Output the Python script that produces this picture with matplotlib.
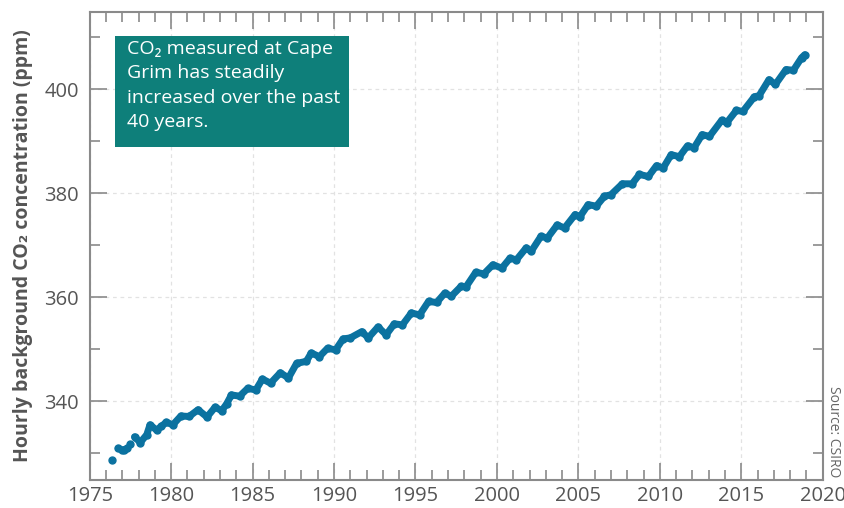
# Cape Grim CO2 record
import numpy as np
import matplotlib.pyplot as plt
from matplotlib.ticker import MultipleLocator
from matplotlib.patches import Rectangle

plt.rcParams['font.family'] = ['Open Sans', 'DejaVu Sans']

nan = np.nan

# decimal year / ppm, NaN marks a gap in the record
years = [1976.38, nan, 1976.75, 1976.95, 1977.1, 1977.3, nan, 1977.5, nan,
         1977.75, 1978.1, 1978.5, 1978.7, 1979.1, 1979.4, 1979.7, 1980.1,
         1980.6, 1981.1, 1981.65, 1982.2, 1982.7, 1983.1, 1983.4, 1983.7,
         1984.2, 1984.7, 1985.2, 1985.6, 1986.1, 1986.7, 1987.2, 1987.7,
         1988.3, 1988.6, 1989.1, 1989.6, 1990.1, 1990.55, 1991.0, 1991.7,
         1992.1, 1992.7, 1993.2, 1993.7, 1994.2, 1994.75, 1995.25, 1995.8,
         1996.3, 1996.8, 1997.2, 1997.8, 1998.1, 1998.7, 1999.2, 1999.75,
         2000.3, 2000.8, 2001.2, 2001.8, 2002.1, 2002.7, 2003.1, 2003.7,
         2004.15, 2004.8, 2005.1, 2005.6, 2006.1, 2006.6, 2007.0, 2007.7,
         2008.3, 2008.75, 2009.3, 2009.8, 2010.2, 2010.7, 2011.2, 2011.7,
         2012.1, 2012.6, 2013.05, 2013.8, 2014.1, 2014.7, 2015.1, 2015.8,
         2016.1, 2016.7, 2017.1, 2017.75, 2018.2, 2018.7, 2018.9]
co2 = [328.75, nan, 331.0, 330.7, 330.6, 331.0, nan, 331.8, nan,
       333.2, 332.1, 333.6, 335.5, 334.5, 335.2, 336.0, 335.5,
       337.2, 337.1, 338.4, 337.0, 338.9, 338.2, 339.5, 341.25,
       341.0, 342.5, 342.2, 344.3, 343.5, 345.5, 344.5, 347.3,
       347.7, 349.3, 348.6, 350.2, 349.9, 352.0, 352.2, 353.4,
       352.2, 354.3, 352.8, 354.9, 354.7, 357.0, 356.6, 359.2,
       359.0, 360.8, 360.2, 362.1, 362.0, 364.8, 364.5, 366.25,
       365.6, 367.5, 367.2, 369.5, 368.8, 371.7, 371.4, 373.9,
       373.3, 375.9, 375.5, 377.8, 377.5, 379.4, 379.7, 381.8,
       381.8, 383.6, 383.2, 385.3, 384.8, 387.4, 387.0, 389.1,
       388.7, 391.25, 390.9, 394.0, 393.5, 395.9, 395.7, 398.5,
       398.75, 401.8, 400.9, 403.75, 403.6, 406.0, 406.6]

note = "CO\u2082 measured at Cape\nGrim has steadily\nincreased over the past\n40 years."

line_col = '#0b72a0'
box_col = '#0e7f7a'
grey = '#555555'
spine_col = '#8a8a8a'

fig = plt.figure(figsize=(8.45, 5.08), dpi=100)
ax = fig.add_axes([0.1062, 0.0551, 0.8674, 0.9213])

ax.plot(years, co2, color=line_col, lw=5, marker='o', ms=5,
        solid_capstyle='round', solid_joinstyle='round')

ax.set_xlim(1975, 2020)
ax.set_ylim(324.9, 414.8)
ax.xaxis.set_major_locator(MultipleLocator(5))
ax.xaxis.set_minor_locator(MultipleLocator(1))
ax.yaxis.set_major_locator(MultipleLocator(20))
ax.yaxis.set_minor_locator(MultipleLocator(10))

ax.grid(True, which='major', color='#e2e2e2', ls=(0, (3, 3)), lw=0.9)
ax.set_axisbelow(True)

for s in ax.spines.values():
    s.set_color(spine_col)
    s.set_linewidth(1.5)

ax.tick_params(which='both', direction='in', top=True, right=True,
               colors=spine_col, labelcolor=grey, labelsize=14.5, width=1.2)
ax.tick_params(which='major', length=12)
ax.tick_params(which='minor', length=7)
ax.tick_params(axis='x', which='major', pad=4)
ax.tick_params(axis='y', which='major', pad=8)

ax.set_ylabel("Hourly background CO\u2082 concentration (ppm)",
              fontsize=14, fontweight='bold', color=grey, labelpad=8)

# annotation box
ax.add_patch(Rectangle((0.0345, 0.7115), 0.3192, 0.2372, transform=ax.transAxes,
                       fc=box_col, ec='none', zorder=3))
ax.text(0.0509, 0.94, note, transform=ax.transAxes, ha='left', va='top',
        fontsize=14, color='white', linespacing=1.45, zorder=4)

fig.text(0.986, 0.1506, "Source: CSIRO", rotation=-90, ha='center',
         va='center', fontsize=10, color='#666666')

fig.savefig('out.png', dpi=100)
